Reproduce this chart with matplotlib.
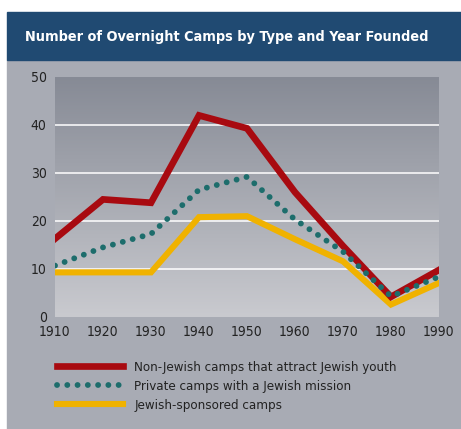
import numpy as np
import matplotlib as mpl
import matplotlib.pyplot as plt
from matplotlib.patches import Rectangle

mpl.use("Agg")

# data
years = [1910, 1920, 1930, 1940, 1950, 1960, 1970, 1980, 1990]
non_jewish = [16.3, 24.5, 23.8, 42.0, 39.3, 26.0, 14.8, 4.2, 9.8]
private = [10.7, 14.5, 17.3, 26.5, 29.2, 20.3, 13.6, 4.3, 8.4]
sponsored = [9.3, 9.3, 9.3, 20.8, 21.0, 16.2, 11.6, 2.6, 7.1]
labels = [
    "Non-Jewish camps that attract Jewish youth",
    "Private camps with a Jewish mission",
    "Jewish-sponsored camps",
]

plt.rcParams["font.family"] = ["DejaVu Sans"]
plt.rcParams["font.stretch"] = "condensed"

W, H = 461, 429
fig = plt.figure(figsize=(W / 100, H / 100), dpi=100)
fig.patch.set_facecolor("white")

# panel: grey body + blue header
fig.add_artist(Rectangle((7 / W, 0), 1 - 7 / W, 1 - 60 / H,
                         transform=fig.transFigure, color="#a8abb4", zorder=0))
fig.add_artist(Rectangle((7 / W, 1 - 60 / H), 1 - 7 / W, 48 / H,
                         transform=fig.transFigure, color="#204a72", zorder=0))
fig.text(25 / W, 1 - 37 / H, "Number of Overnight Camps by Type and Year Founded",
         color="white", fontsize=10.4, fontweight="bold", va="center", ha="left")

ax = fig.add_axes([55 / W, 1 - 317 / H, 384 / W, 240 / H])
ax.set_xlim(1910, 1990)
ax.set_ylim(0, 50)

# vertical gradient background, darker at top
grad = np.linspace(0, 1, 256).reshape(-1, 1)
cmap = mpl.colors.LinearSegmentedColormap.from_list("bg", ["#c9cacf", "#868a95"])
ax.imshow(grad, aspect="auto", cmap=cmap, origin="lower",
          extent=(1910, 1990, 0, 50), zorder=0)

for y in [10, 20, 30, 40]:
    ax.axhline(y, color="white", lw=1.3, alpha=0.85, zorder=1)

ax.plot(years, sponsored, color="#f0b200", lw=4.4, solid_joinstyle="miter",
        zorder=2, label=labels[2])
ax.plot(years, non_jewish, color="#a80a10", lw=4.8, solid_joinstyle="miter",
        zorder=3, label=labels[0])
ax.plot(years, private, color="#1d6d6c", lw=4.2, ls=(0, (0.01, 1.75)),
        dash_capstyle="round", zorder=4, label=labels[1])

for s in ax.spines.values():
    s.set_visible(False)
ax.set_xticks(years)
ax.set_yticks([0, 10, 20, 30, 40, 50])
ax.tick_params(length=0, labelsize=10, labelcolor="#222222")
ax.tick_params(axis="x", pad=6)
ax.tick_params(axis="y", pad=6)

h, l = ax.get_legend_handles_labels()
order = [1, 2, 0]
fig.legend([h[i] for i in order], [l[i] for i in order],
           loc="upper left", bbox_to_anchor=(45 / W, 1 - 349 / H),
           frameon=False, fontsize=9.5, handlelength=5.0, handletextpad=0.85,
           labelspacing=0.45, labelcolor="#222222")

fig.savefig("out.png", dpi=100)
